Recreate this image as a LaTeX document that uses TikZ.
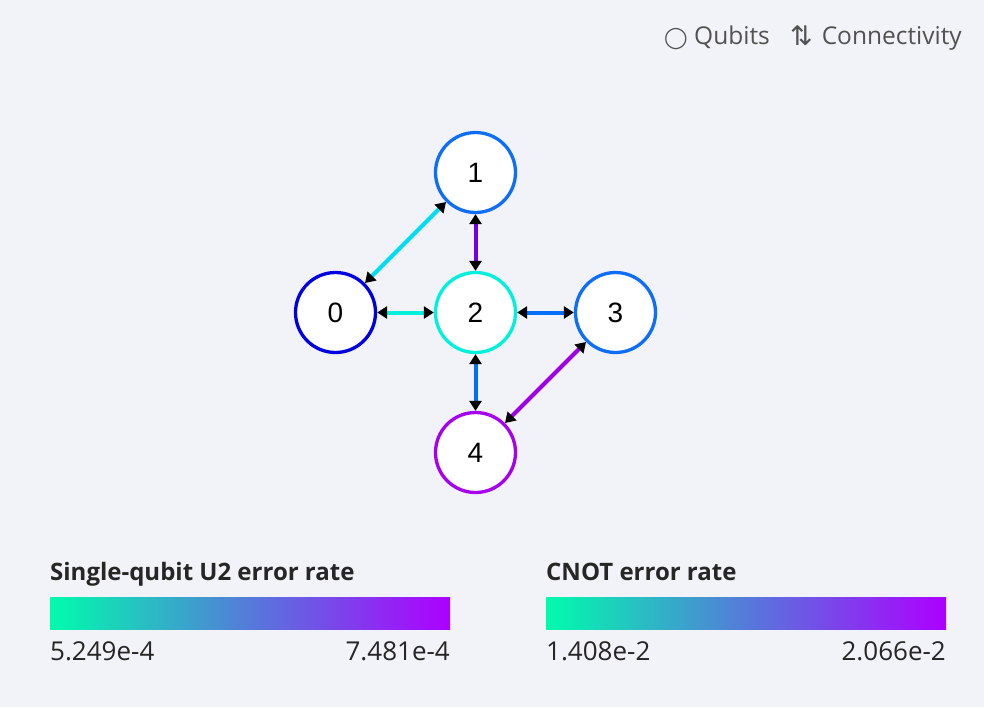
\documentclass[tikz,border=0pt]{standalone}
\usepackage{fontspec}
\setmainfont{Open Sans}
\newfontfamily\nodefont{Liberation Sans}
\newfontfamily\symfont{DejaVu Sans}
\usetikzlibrary{arrows.meta}
\definecolor{bg}{RGB}{242,243,248}
\definecolor{txtgray}{RGB}{82,82,82}
\definecolor{titlecol}{RGB}{38,38,38}
\definecolor{nzero}{RGB}{0,0,225}
\definecolor{nblue}{RGB}{15,110,248}
\definecolor{ncyan}{RGB}{0,240,222}
\definecolor{npurple}{RGB}{165,0,240}
\definecolor{ecyan}{RGB}{0,220,242}
\definecolor{eviolet}{RGB}{112,0,232}
\definecolor{egreen}{RGB}{0,240,222}
\definecolor{eblue}{RGB}{0,112,250}
\definecolor{epurple}{RGB}{160,0,230}
\definecolor{gleft}{RGB}{0,252,172}
\definecolor{gmid}{RGB}{85,122,218}
\definecolor{gright}{RGB}{172,0,255}
\tikzset{
  qubit/.style={circle, draw, line width=3.3pt, fill=white, minimum size=80pt, inner sep=0pt, font=\nodefont\fontsize{28}{28}\selectfont},
  link/.style={line width=4pt, {Triangle[length=10pt,width=12pt,color=black]}-{Triangle[length=10pt,width=12pt,color=black]}},
  legend/.style={text=txtgray, font=\fontsize{24.5}{25}\selectfont, inner sep=0pt},
  bartitle/.style={text=titlecol, font=\fontsize{24}{24}\bfseries\selectfont, inner sep=0pt},
  barlabel/.style={text=titlecol, font=\fontsize{26}{26}\selectfont, inner sep=0pt},
  colorbar/.style={left color=gleft, right color=gright, middle color=gmid}
}
\begin{document}
\begin{tikzpicture}[x=1pt,y=-1pt]
\fill[bg] (0,0) rectangle (984,707);
\useasboundingbox (0,0) rectangle (984,707);

% top-right legend
\node[legend, anchor=base west] (qsym) at (664,44) {\symfont\fontsize{21}{21}\selectfont ◯};
\node[legend, anchor=base west] (qtxt) at (694,44) {Qubits};
\node[legend, anchor=base west] (csym) at (790,45) {\symfont\fontsize{27}{27}\selectfont ⇅};
\node[legend, anchor=base east] (ctxt) at (962,44) {Connectivity};

% qubits
\node[qubit, draw=nzero] (q0) at (335.5,312.5) {0};
\node[qubit, draw=nblue] (q1) at (475.5,172.5) {1};
\node[qubit, draw=ncyan] (q2) at (475.5,312.5) {2};
\node[qubit, draw=nblue] (q3) at (615.5,312.5) {3};
\node[qubit, draw=npurple] (q4) at (475.5,452.5) {4};

% connectivity
\draw[link, ecyan] (q0) -- (q1);
\draw[link, eviolet] (q1) -- (q2);
\draw[link, egreen] (q0) -- (q2);
\draw[link, eblue] (q2) -- (q3);
\draw[link, eblue] (q2) -- (q4);
\draw[link, epurple] (q3) -- (q4);

% colour bars
\node[bartitle, anchor=base west] (t1) at (50,580) {Single-qubit U2 error rate};
\shade[colorbar] (50,597) rectangle (450,629);
\node[barlabel, anchor=base west] (l1a) at (50,660) {5.249e-4};
\node[barlabel, anchor=base east] (l1b) at (450,660) {7.481e-4};

\node[bartitle, anchor=base west] (t2) at (546,580) {CNOT error rate};
\shade[colorbar] (546,597) rectangle (946,629);
\node[barlabel, anchor=base west] (l2a) at (546,660) {1.408e-2};
\node[barlabel, anchor=base east] (l2b) at (946,660) {2.066e-2};
\end{tikzpicture}
\end{document}
